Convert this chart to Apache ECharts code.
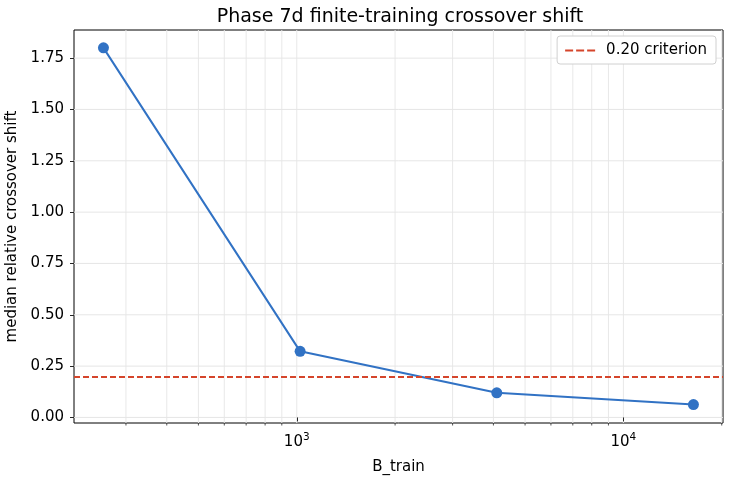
<!DOCTYPE html>
<html>
<head>
<meta charset="utf-8">
<script src="https://cdn.jsdelivr.net/npm/echarts@6/dist/echarts.min.js"></script>
<style>
  html, body { margin: 0; padding: 0; background: #fff; }
  #chart { width: 731px; height: 481px; }
</style>
</head>
<body>
<div id="chart"></div>
<script>
// data
const bTrain = [256, 1024, 4096, 16384]
const medianShift = [1.80, 0.322, 0.12, 0.063]
const criterion = 0.2
const yTicks = [0, 0.25, 0.5, 0.75, 1.0, 1.25, 1.5, 1.75]
const majorX = [1000, 10000]
const minorX = [300, 400, 500, 600, 700, 800, 900, 2000, 3000, 4000, 5000, 6000, 7000, 8000, 9000, 20000]

// axis limits (matplotlib-style 5% margins)
const xMin = 208
const xMax = 20180
const yMin = -0.027
const yMax = 1.887

const FONT = 'DejaVu Sans'
const chart = echarts.init(document.getElementById('chart'))

const gridX = minorX.map(v => [v, yMin, 0]).concat(majorX.map(v => [v, yMin, 1]))
const gridY = yTicks.map(t => [xMin, t, 2])

chart.setOption({
  animation: false,
  backgroundColor: '#fff',
  title: {
    text: 'Phase 7d finite-training crossover shift',
    left: 395,
    textAlign: 'center',
    top: 3,
    textStyle: { fontFamily: FONT, fontSize: 19, fontWeight: 'normal', color: '#000' }
  },
  grid: {
    left: 74,
    right: 8,
    top: 30,
    bottom: 58,
    outerBoundsMode: 'none',
    containLabel: false,
    show: true,
    borderColor: '#000',
    borderWidth: 1,
    backgroundColor: 'transparent'
  },
  legend: {
    data: [{
      name: '0.20 criterion',
      icon: 'path://M0,0h8v2h-8z M11,0h8v2h-8z M22,0h8v2h-8z'
    }],
    right: 15,
    top: 36,
    itemWidth: 30,
    itemHeight: 2,
    padding: [7, 9, 6, 8],
    backgroundColor: '#fff',
    borderColor: '#d0d0d0',
    borderWidth: 1,
    borderRadius: 3,
    textStyle: { fontFamily: FONT, fontSize: 15, color: '#000', padding: [0, 0, 0, 6] }
  },
  xAxis: {
    type: 'log',
    logBase: 10,
    min: xMin,
    max: xMax,
    name: 'B_train',
    nameLocation: 'middle',
    nameGap: 37,
    nameTextStyle: { fontFamily: FONT, fontSize: 15, color: '#000' },
    axisLine: { show: false },
    axisTick: { show: true, length: 4, customValues: majorX, lineStyle: { color: '#262626' } },
    axisLabel: {
      fontFamily: FONT,
      fontSize: 15,
      color: '#000',
      margin: 9,
      customValues: majorX,
      formatter: v => '10{s|' + Math.round(Math.log10(v)) + '}',
      rich: {
        s: { fontFamily: FONT, fontSize: 10.5, color: '#000', verticalAlign: 'top', padding: [0, 0, 9, 0] }
      }
    },
    splitLine: { show: false }
  },
  yAxis: {
    type: 'value',
    min: yMin,
    max: yMax,
    name: 'median relative crossover shift',
    nameLocation: 'middle',
    nameGap: 50,
    nameTextStyle: { fontFamily: FONT, fontSize: 15, color: '#000' },
    axisLine: { show: false },
    axisTick: { show: true, length: 4, customValues: yTicks, lineStyle: { color: '#262626' } },
    axisLabel: {
      fontFamily: FONT,
      fontSize: 15,
      color: '#000',
      margin: 10,
      customValues: yTicks,
      formatter: v => v.toFixed(2)
    },
    splitLine: { show: false }
  },
  series: [
    {
      // log grid lines (+ minor ticks) and horizontal grid at the y ticks
      type: 'custom',
      silent: true,
      z: 0,
      clip: false,
      data: gridX.concat(gridY),
      encode: { x: 0, y: 1 },
      renderItem: (params, api) => {
        const kind = api.value(2)
        if (kind === 2) {
          const t = api.value(1)
          const a = api.coord([xMin, t])
          const b = api.coord([xMax, t])
          return {
            type: 'line',
            shape: { x1: a[0], y1: a[1], x2: b[0], y2: b[1] },
            style: { stroke: '#e6e6e6', lineWidth: 1 }
          }
        }
        const v = api.value(0)
        const top = api.coord([v, yMax])
        const bot = api.coord([v, yMin])
        const children = [{
          type: 'line',
          shape: { x1: top[0], y1: top[1], x2: bot[0], y2: bot[1] },
          style: { stroke: '#e8e8e8', lineWidth: 1 }
        }]
        if (kind === 0) {
          children.push({
            type: 'line',
            shape: { x1: bot[0], y1: bot[1], x2: bot[0], y2: bot[1] + 2.5 },
            style: { stroke: '#262626', lineWidth: 0.8 }
          })
        }
        return { type: 'group', children }
      }
    },
    {
      name: '0.20 criterion',
      type: 'line',
      data: [],
      symbol: 'none',
      itemStyle: { color: '#d5452b' },
      lineStyle: { color: '#d5452b', width: 2, type: [6, 3] },
      markLine: {
        silent: true,
        symbol: 'none',
        label: { show: false },
        lineStyle: { color: '#d5452b', width: 2, type: [6, 3] },
        data: [{ yAxis: criterion }]
      },
      z: 3
    },
    {
      name: 'median shift',
      type: 'line',
      data: bTrain.map((b, i) => [b, medianShift[i]]),
      symbol: 'circle',
      symbolSize: 11,
      itemStyle: { color: '#3172c4' },
      lineStyle: { color: '#3172c4', width: 2 },
      z: 4
    }
  ]
})
</script>
</body>
</html>
